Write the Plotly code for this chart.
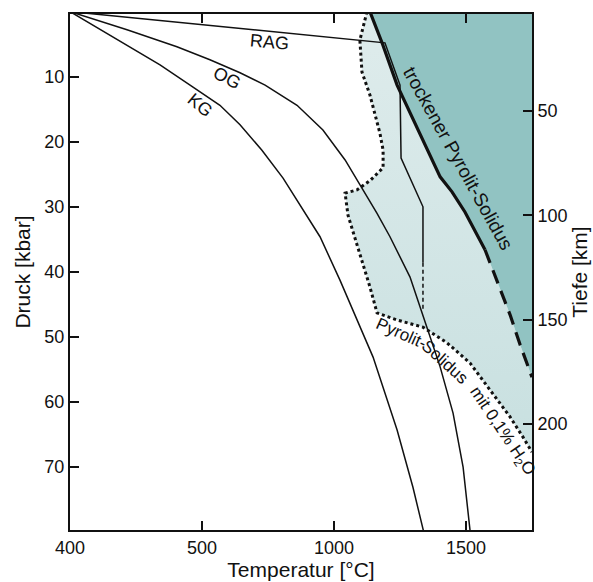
import plotly.graph_objects as go

# ---------------- data ----------------
# temperature axis in °C (tick labelled "400" sits at the origin of the drawing)
x_tickvals = [0, 500, 1000, 1500]
x_ticktext = ["400", "500", "1000", "1500"]
p_tickvals = [10, 20, 30, 40, 50, 60, 70]
km_tickvals = [50, 100, 150, 200]

T_MAX = 1750

# Kontinent-Geotherme (KG)
kg_T = [0, 87, 216, 341, 466, 568, 644, 727, 807, 871, 947, 1023, 1087, 1148, 1239, 1299, 1340]
kg_P = [0, 2.1, 5.1, 8.2, 11.6, 14.4, 17.4, 21.3, 25.6, 29.7, 34.6, 41.3, 47.4, 53.1, 64.3, 73.1, 80]

# Ozean-Geotherme (OG)
og_T = [0, 216, 405, 530, 644, 739, 860, 958, 1042, 1106, 1163, 1212, 1288, 1356, 1402, 1451, 1489, 1516]
og_P = [0, 2.8, 5.4, 7.4, 9.4, 11.3, 14.4, 18.2, 22.8, 27.1, 31.0, 34.6, 40.8, 49.0, 54.6, 61.7, 70.0, 80]

# Riftachsen-Geotherme (RAG)
rag_T = [0, 1193, 1250, 1254, 1337, 1337]
rag_P = [0, 4.8, 11.3, 22.5, 30.0, 38.6]
rag_dash_T = [1337, 1337]
rag_dash_P = [38.6, 45.9]

# trockener Pyrolit-Solidus
dry_T = [1136, 1182, 1239, 1402, 1447, 1496, 1572]
dry_P = [0, 4.8, 11.3, 25.4, 27.7, 30.8, 36.6]
dry_dash_T = [1572, 1617, 1667, 1705, 1750]
dry_dash_P = [36.6, 41.3, 46.6, 51.2, 56.2]

# Pyrolit-Solidus mit 0,1% H2O
wet_T = [1125, 1098, 1106, 1136, 1174, 1186, 1186, 1136, 1087, 1042, 1053, 1098, 1136, 1163,
         1239, 1337, 1428, 1515, 1591, 1667, 1716, 1750]
wet_P = [0, 4.4, 9.3, 12.8, 18.7, 21.3, 24.0, 26.0, 27.4, 27.9, 31.3, 37.1, 42.3, 46.3,
         47.4, 48.5, 50.9, 54.0, 58.2, 62.3, 65.4, 67.7]

# ---------------- styles ----------------
FONT = "Liberation Sans, Arial, Helvetica, sans-serif"
INK = "#111111"
DARK_FILL = "#91c3c2"
LIGHT_TOP = "#c8e0e0"
LIGHT_BOT = "#dfecec"

fig = go.Figure()

# light region between wet solidus and dry solidus
light_T = wet_T + dry_dash_T[::-1] + dry_T[::-1]
light_P = wet_P + dry_dash_P[::-1] + dry_P[::-1]
fig.add_trace(go.Scatter(
    x=light_T, y=light_P, mode="lines", fill="toself",
    fillcolor=LIGHT_TOP,
    fillgradient=dict(type="vertical", colorscale=[[0, LIGHT_TOP], [1, LIGHT_BOT]]),
    line=dict(width=0), hoverinfo="skip", showlegend=False))

# dark region right of dry solidus
dark_T = dry_T + dry_dash_T[1:] + [T_MAX, dry_T[0]]
dark_P = dry_P + dry_dash_P[1:] + [0, 0]
fig.add_trace(go.Scatter(
    x=dark_T, y=dark_P, mode="lines", fill="toself", fillcolor=DARK_FILL,
    line=dict(width=0), hoverinfo="skip", showlegend=False))

thin = dict(color=INK, width=1.5)
for xs, ys in [(kg_T, kg_P), (og_T, og_P), (rag_T, rag_P)]:
    fig.add_trace(go.Scatter(x=xs, y=ys, mode="lines", line=thin, showlegend=False))
fig.add_trace(go.Scatter(x=rag_dash_T, y=rag_dash_P, mode="lines",
                         line=dict(color=INK, width=1.5, dash="4px,3px"), showlegend=False))

fig.add_trace(go.Scatter(x=dry_T, y=dry_P, mode="lines",
                         line=dict(color=INK, width=3.2), showlegend=False))
fig.add_trace(go.Scatter(x=dry_dash_T, y=dry_dash_P, mode="lines",
                         line=dict(color=INK, width=3.2, dash="14px,8px"), showlegend=False))

fig.add_trace(go.Scatter(x=wet_T, y=wet_P, mode="lines",
                         line=dict(color=INK, width=3, dash="3px,3px"), showlegend=False))

# dummy trace for the depth axis
fig.add_trace(go.Scatter(x=[None], y=[None], yaxis="y2", showlegend=False))

def label(text, T, P, angle, size=18):
    fig.add_annotation(x=T, y=P, xref="x", yref="y", text=text, showarrow=False,
                       textangle=angle, font=dict(family=FONT, size=size, color=INK))

label("RAG", 754, 4.7, 5)
label("OG", 595, 10.2, 28)
label("KG", 492, 14.4, 40)
label("trockener Pyrolit-Solidus", 1470, 22.6, 61, 19)
label("Pyrolit-", 1255, 49.4, 24, 17)
label("Solidus", 1422, 53.9, 42, 17)
label("mit 0,1% H<sub>2</sub>O", 1636, 64.6, 56, 17)

axis_common = dict(showgrid=False, zeroline=False, showline=True, linecolor=INK,
                   linewidth=2, ticks="inside", ticklen=9, tickwidth=1.5, tickcolor=INK,
                   tickfont=dict(family=FONT, size=18, color=INK), automargin=False)

fig.update_layout(
    width=593, height=582,
    margin=dict(l=70, r=61, t=14, b=52),
    paper_bgcolor="white", plot_bgcolor="white",
    font=dict(family=FONT, color=INK),
    xaxis=dict(range=[0, T_MAX], tickvals=x_tickvals, ticktext=x_ticktext,
               mirror="ticks",
               title=dict(text="Temperatur [°C]", font=dict(family=FONT, size=21, color=INK),
                          standoff=2),
               **axis_common),
    yaxis=dict(range=[79.67, 0.37], tickvals=p_tickvals,
               title=dict(text="Druck [kbar]", font=dict(family=FONT, size=21, color=INK),
                          standoff=8),
               **axis_common),
    yaxis2=dict(overlaying="y", side="right", range=[250.7, 3.6], tickvals=km_tickvals,
                title=dict(text="Tiefe [km]", font=dict(family=FONT, size=21, color=INK),
                           standoff=6),
                **axis_common),
)

# remove the page's default body margin so the figure fills the window exactly
fig.write_html("out.html",
               config={"displayModeBar": False},
               post_script="document.body.style.margin='0';document.body.style.overflow='hidden';")
